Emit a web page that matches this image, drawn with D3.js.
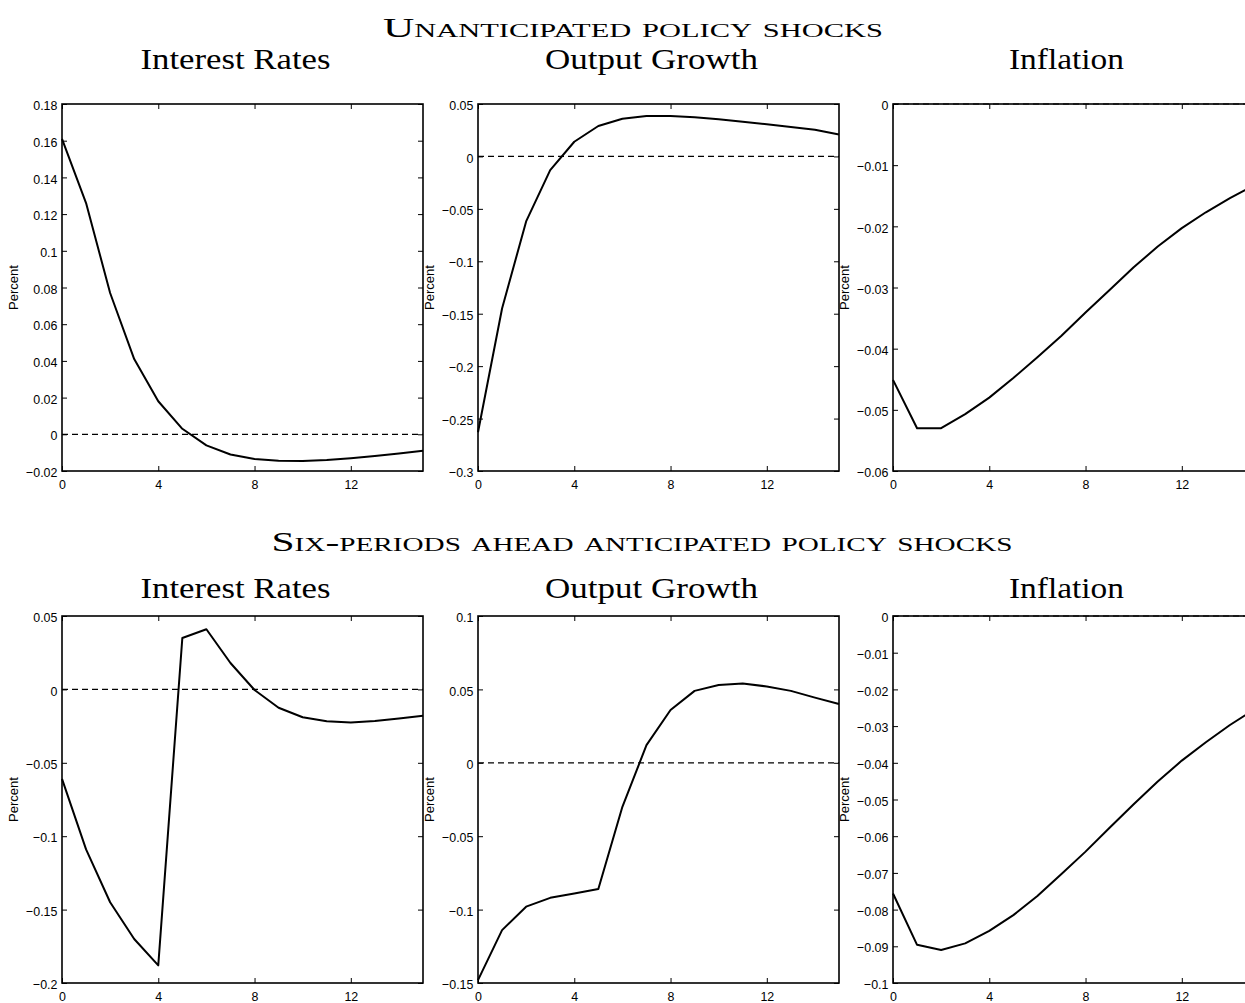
<!DOCTYPE html>
<html><head><meta charset="utf-8">
<script src="https://cdn.jsdelivr.net/npm/d3@7"></script>
<style>
body{margin:0;background:#fff;}
svg{display:block;}
.tick text{font-family:"Liberation Sans",Arial,sans-serif;font-size:13.5px;fill:#000;}
.ttl{font-family:"Liberation Serif","Times New Roman",serif;fill:#000;}
</style></head>
<body>
<svg id="chart" width="1245" height="1003"></svg>
<script>
// ---- data ----
const horizon = [0,1,2,3,4,5,6,7,8,9,10,11,12,13,14,15];
const xTicks = [0,4,8,12];

const rowTitles = ["Unanticipated policy shocks", "Six-periods ahead anticipated policy shocks"];
const panelTitles = ["Interest Rates", "Output Growth", "Inflation"];

// Unanticipated
const unantInterest = [0.161,0.126,0.077,0.041,0.018,0.003,-0.006,-0.011,-0.0135,-0.0144,-0.0145,-0.014,-0.013,-0.0118,-0.0105,-0.009];
const unantOutput   = [-0.263,-0.145,-0.062,-0.013,0.014,0.029,0.036,0.0386,0.0386,0.0373,0.0354,0.0331,0.0306,0.028,0.0255,0.021];
const unantInflation= [-0.0451,-0.053,-0.053,-0.0507,-0.048,-0.0448,-0.0414,-0.0379,-0.0341,-0.0304,-0.0267,-0.0233,-0.0203,-0.0177,-0.0154,-0.0133];
// Six-periods ahead anticipated
const antInterest   = [-0.061,-0.109,-0.145,-0.170,-0.188,0.035,0.041,0.018,-0.0004,-0.0125,-0.019,-0.0217,-0.0225,-0.0215,-0.0198,-0.018];
const antOutput     = [-0.148,-0.114,-0.098,-0.092,-0.089,-0.086,-0.030,0.012,0.036,0.049,0.053,0.054,0.052,0.049,0.0444,0.040];
const antInflation  = [-0.0756,-0.0896,-0.091,-0.0892,-0.0858,-0.0815,-0.0763,-0.0703,-0.0642,-0.0577,-0.0513,-0.0451,-0.0394,-0.0344,-0.0297,-0.0255];

// y tick values
const yTicksUnantInterest = [-0.02,0,0.02,0.04,0.06,0.08,0.1,0.12,0.14,0.16,0.18];
const yTicksUnantOutput   = [-0.3,-0.25,-0.2,-0.15,-0.1,-0.05,0,0.05];
const yTicksUnantInflation= [-0.06,-0.05,-0.04,-0.03,-0.02,-0.01,0];
const yTicksAntInterest   = [-0.2,-0.15,-0.1,-0.05,0,0.05];
const yTicksAntOutput     = [-0.15,-0.1,-0.05,0,0.05,0.1];
const yTicksAntInflation  = [-0.1,-0.09,-0.08,-0.07,-0.06,-0.05,-0.04,-0.03,-0.02,-0.01,0];

const panels = [
  {row:0,col:0,data:unantInterest, ticks:yTicksUnantInterest},
  {row:0,col:1,data:unantOutput,   ticks:yTicksUnantOutput},
  {row:0,col:2,data:unantInflation,ticks:yTicksUnantInflation},
  {row:1,col:0,data:antInterest,   ticks:yTicksAntInterest},
  {row:1,col:1,data:antOutput,     ticks:yTicksAntOutput},
  {row:1,col:2,data:antInflation,  ticks:yTicksAntInflation}
];

// ---- layout ----
const colLeft = [62, 478, 893];
const rowTop = [104, 616];
const pw = 361, ph = 367;
const svg = d3.select("#chart");

const fmt = d => {
  const s = String(+d.toFixed(3));
  return s.replace("-", "\u2212");
};

// row titles
const rowTitleY = [37, 551];
const rowTitleLen = [500, 741];
const rowTitleCx = [633, 642];
rowTitles.forEach((t,i)=>{
  svg.append("text").attr("class","ttl")
    .attr("x", rowTitleCx[i]).attr("y", rowTitleY[i])
    .attr("text-anchor","middle")
    .style("font-size","27px").style("font-variant","small-caps")
    .attr("textLength", rowTitleLen[i]).attr("lengthAdjust","spacingAndGlyphs")
    .text(t);
});
const panelTitleY = [69, 598];
const panelTitleLen = [190, 213, 115];

panels.forEach(p=>{
  const x0 = colLeft[p.col], y0 = rowTop[p.row];
  const g = svg.append("g").attr("transform",`translate(${x0},${y0})`);
  const x = d3.scaleLinear().domain([0,15]).range([0,pw]);
  const ext = d3.extent(p.ticks);
  const y = d3.scaleLinear().domain(ext).range([ph,0]);

  // title
  svg.append("text").attr("class","ttl")
    .attr("x", x0 + pw/2 - 7).attr("y", panelTitleY[p.row])
    .attr("text-anchor","middle").style("font-size","29px")
    .attr("textLength", panelTitleLen[p.col]).attr("lengthAdjust","spacingAndGlyphs")
    .text(panelTitles[p.col]);

  // y label
  svg.append("text")
    .attr("transform",`translate(${x0-44},${y0+ph/2}) rotate(-90)`)
    .attr("text-anchor","middle")
    .style("font-family","Liberation Sans, Arial, sans-serif").style("font-size","13px")
    .text("Percent");

  // axes
  const tl = 5;
  const ax = g.append("g").attr("transform",`translate(0,${ph})`)
    .call(d3.axisBottom(x).tickValues(xTicks).tickSizeInner(-tl).tickSizeOuter(0).tickPadding(8).tickFormat(d3.format("d")));
  const axT = g.append("g")
    .call(d3.axisTop(x).tickValues(xTicks).tickSizeInner(-tl).tickSizeOuter(0).tickFormat(""));
  const ay = g.append("g")
    .call(d3.axisLeft(y).tickValues(p.ticks).tickSizeInner(-tl).tickSizeOuter(0).tickPadding(5).tickFormat(fmt));
  const ayR = g.append("g").attr("transform",`translate(${pw},0)`)
    .call(d3.axisRight(y).tickValues(p.ticks).tickSizeInner(-tl).tickSizeOuter(0).tickFormat(""));
  [ax,axT,ay,ayR].forEach(a=>{
    a.select(".domain").remove();
    a.selectAll(".tick line").attr("stroke","#000").attr("stroke-width",1);
  });
  ay.selectAll(".tick text").attr("dy","0.42em").attr("transform","scale(0.92,1)");
  ax.selectAll(".tick text").attr("dy","0.71em").attr("transform","scale(0.92,1)");

  // zero dashed line
  g.append("line")
    .attr("x1",x(0)).attr("x2",x(15)).attr("y1",y(0)).attr("y2",y(0))
    .attr("stroke","#000").attr("stroke-width",1.2).attr("stroke-dasharray","6,4");

  // curve
  const line = d3.line().x((d,i)=>x(horizon[i])).y(d=>y(d));
  g.append("path").datum(p.data).attr("d",line)
    .attr("fill","none").attr("stroke","#000").attr("stroke-width",2).attr("stroke-linejoin","round");

  // box
  g.append("rect").attr("x",0).attr("y",0).attr("width",pw).attr("height",ph)
    .attr("fill","none").attr("stroke","#000").attr("stroke-width",1.6);
});
</script>
</body></html>
